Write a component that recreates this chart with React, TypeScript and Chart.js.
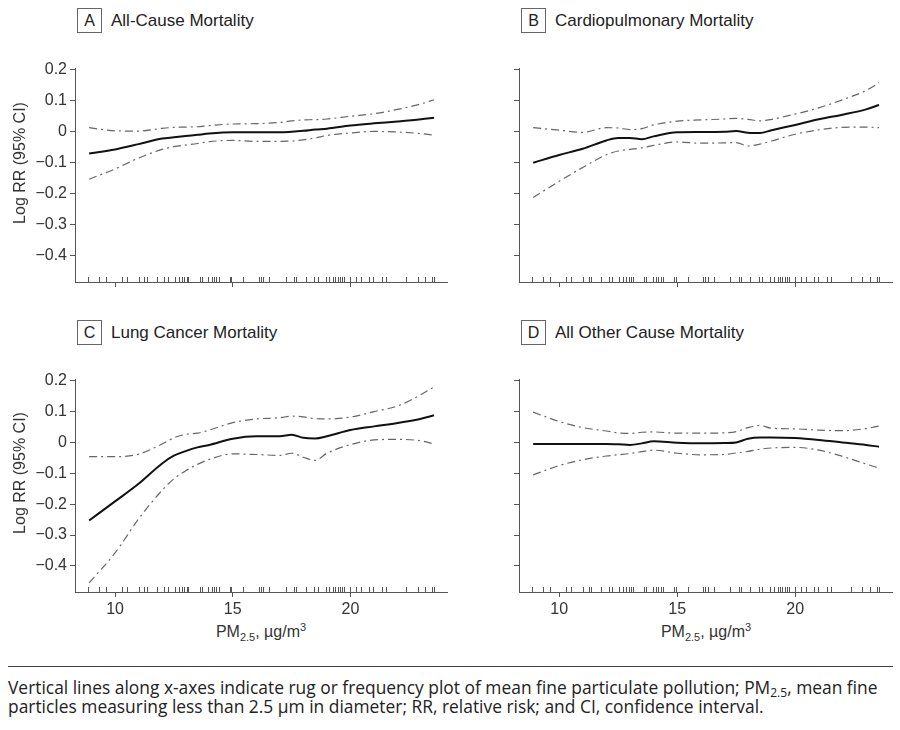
import React, { useEffect, useRef } from "react";
import { Chart, registerables } from "chart.js";

Chart.register(...registerables);

// PM2.5 grid (µg/m3) at which the curves were read
const pmGrid = [8.9, 10, 11, 12, 12.5, 13, 13.5, 14, 15, 16, 17, 17.5, 18, 18.5, 19, 20, 21, 22, 23, 23.55];

// A All-Cause Mortality
const allCauseEst = [-0.07, -0.057, -0.04, -0.022, -0.018, -0.014, -0.01, -0.006, -0.002, -0.002, -0.002, 0.0, 0.003, 0.007, 0.01, 0.02, 0.027, 0.033, 0.04, 0.045];
const allCauseUpper = [0.013, 0.003, 0.002, 0.011, 0.014, 0.015, 0.016, 0.02, 0.025, 0.026, 0.03, 0.035, 0.038, 0.039, 0.041, 0.05, 0.058, 0.072, 0.09, 0.103];
const allCauseLower = [-0.153, -0.12, -0.085, -0.057, -0.048, -0.043, -0.038, -0.032, -0.028, -0.031, -0.031, -0.03, -0.026, -0.02, -0.012, -0.004, 0.001, -0.001, -0.006, -0.011];

// B Cardiopulmonary Mortality
const cardioEst = [-0.1, -0.075, -0.055, -0.028, -0.02, -0.02, -0.024, -0.015, -0.002, -0.001, 0.0, 0.002, -0.003, -0.004, 0.005, 0.022, 0.04, 0.055, 0.072, 0.086];
const cardioUpper = [0.013, 0.005, -0.002, 0.013, 0.012, 0.007, 0.01, 0.022, 0.034, 0.038, 0.041, 0.043, 0.04, 0.035, 0.04, 0.057, 0.077, 0.103, 0.133, 0.158];
const cardioLower = [-0.212, -0.16, -0.115, -0.074, -0.062, -0.057, -0.052, -0.044, -0.033, -0.037, -0.036, -0.035, -0.046, -0.04, -0.03, -0.008, 0.006, 0.014, 0.015, 0.013];

// C Lung Cancer Mortality
const lungEst = [-0.253, -0.191, -0.134, -0.068, -0.043, -0.028, -0.016, -0.008, 0.012, 0.02, 0.02, 0.025, 0.015, 0.013, 0.02, 0.04, 0.052, 0.063, 0.077, 0.088];
const lungUpper = [-0.046, -0.046, -0.038, -0.005, 0.015, 0.026, 0.03, 0.04, 0.064, 0.076, 0.08, 0.085, 0.083, 0.077, 0.076, 0.082, 0.1, 0.118, 0.155, 0.18];
const lungLower = [-0.455, -0.358, -0.248, -0.155, -0.118, -0.092, -0.071, -0.055, -0.037, -0.039, -0.042, -0.035, -0.048, -0.058, -0.035, -0.007, 0.008, 0.01, 0.005, -0.005];

// D All Other Cause Mortality
const otherEst = [-0.005, -0.005, -0.005, -0.005, -0.006, -0.008, -0.003, 0.004, -0.001, -0.003, -0.002, 0.0, 0.012, 0.016, 0.016, 0.014, 0.008, 0.0, -0.008, -0.014];
const otherUpper = [0.098, 0.068, 0.048, 0.037, 0.031, 0.029, 0.033, 0.034, 0.03, 0.03, 0.031, 0.035, 0.048, 0.055, 0.046, 0.044, 0.04, 0.038, 0.045, 0.053];
const otherLower = [-0.105, -0.075, -0.056, -0.044, -0.04, -0.036, -0.03, -0.025, -0.035, -0.04, -0.039, -0.034, -0.029, -0.022, -0.018, -0.016, -0.025, -0.045, -0.07, -0.083];

// Rug: mean PM2.5 of the cities
const rugPM = [8.85, 9.3, 9.6, 10.3, 10.5, 11.0, 11.25, 11.35, 11.77, 12.1, 12.25, 12.55, 12.7, 12.84, 12.95, 13.05, 13.12, 13.6, 13.68, 13.97, 14.1, 14.2, 14.3, 14.4, 14.87, 14.94, 15.45, 16.1, 16.2, 16.3, 16.55, 17.25, 17.6, 17.7, 18.1, 18.45, 18.6, 18.95, 19.1, 19.25, 19.35, 19.45, 19.55, 19.65, 19.72, 20.0, 20.25, 20.45, 20.8, 20.95, 21.35, 21.5, 22.35, 22.85, 23.15, 23.45, 23.55];

const yTickValues = [-0.4, -0.3, -0.2, -0.1, 0, 0.1, 0.2];
const xTickValues = [10, 15, 20];
const panelLetters = ["A", "B", "C", "D"];
const panelTitles = ["All-Cause Mortality", "Cardiopulmonary Mortality", "Lung Cancer Mortality", "All Other Cause Mortality"];
const yAxisTitle = "Log RR (95% CI)";

const FONT = "'Liberation Sans', Arial, Helvetica, sans-serif";
const CW = 450;
const CH = 270;

const rugPlugin = {
  id: "rug",
  afterDatasetsDraw(chart: any) {
    const { ctx, chartArea, scales } = chart;
    ctx.save();
    ctx.strokeStyle = "#555";
    ctx.lineWidth = 1;
    ctx.beginPath();
    for (const v of rugPM) {
      const x = Math.round(scales.x.getPixelForValue(v)) + 0.5;
      ctx.moveTo(x, chartArea.bottom);
      ctx.lineTo(x, chartArea.bottom - 5);
    }
    ctx.stroke();
    ctx.restore();
  },
};

function fmtY(v: number) {
  if (Math.abs(v) < 1e-9) return "0";
  return v < 0 ? "\u2212" + Math.abs(v).toFixed(1) : v.toFixed(1);
}

type PanelProps = {
  est: number[];
  upper: number[];
  lower: number[];
  left: number;
  top: number;
  padTop: number;
  yWidth: number;
  padRight: number;
  showYLabels: boolean;
  showXLabels: boolean;
};

function Panel(p: PanelProps) {
  const ref = useRef<HTMLCanvasElement>(null);
  useEffect(() => {
    if (!ref.current) return;
    const mk = (arr: number[]) => pmGrid.map((x, i) => ({ x, y: arr[i] }));
    const ciStyle = {
      borderColor: "#666",
      borderWidth: 1.2,
      borderDash: [8, 4, 2, 4],
      pointRadius: 0,
      cubicInterpolationMode: "monotone" as const,
      fill: false,
    };
    const chart = new Chart(ref.current, {
      type: "line",
      data: {
        datasets: [
          { data: mk(p.upper), ...ciStyle },
          { data: mk(p.lower), ...ciStyle },
          {
            data: mk(p.est),
            borderColor: "#111",
            borderWidth: 2,
            pointRadius: 0,
            cubicInterpolationMode: "monotone",
            fill: false,
          },
        ],
      },
      options: {
        animation: false,
        responsive: false,
        events: [],
        layout: { padding: { top: p.padTop, right: p.padRight, left: 0, bottom: 0 } },
        plugins: { legend: { display: false }, tooltip: { enabled: false } },
        scales: {
          x: {
            type: "linear",
            min: 8.3,
            max: 24.1,
            afterBuildTicks: (s: any) => {
              s.ticks = xTickValues.map((value) => ({ value }));
            },
            afterFit: (s: any) => {
              s.height = 28;
            },
            grid: { display: true, drawOnChartArea: false, drawTicks: true, tickLength: 5, color: "#555" },
            border: { display: true, color: "#555", width: 1 },
            ticks: {
              display: p.showXLabels,
              padding: 3,
              color: "#333",
              font: { family: FONT, size: 16 },
              callback: (v: any) => String(v),
            },
          },
          y: {
            type: "linear",
            min: -0.4845,
            max: 0.2055,
            afterBuildTicks: (s: any) => {
              s.ticks = yTickValues.map((value) => ({ value }));
            },
            afterFit: (s: any) => {
              s.width = p.yWidth;
            },
            grid: { display: true, drawOnChartArea: false, drawTicks: true, tickLength: 5, color: "#555" },
            border: { display: true, color: "#555", width: 1 },
            ticks: {
              display: p.showYLabels,
              padding: 3,
              color: "#333",
              font: { family: FONT, size: 16 },
              callback: (v: any) => fmtY(Number(v)),
            },
          },
        },
      },
      plugins: [rugPlugin],
    });
    return () => chart.destroy();
  }, []);
  return (
    <canvas
      ref={ref}
      width={CW}
      height={CH}
      style={{ position: "absolute", left: p.left, top: p.top, width: CW, height: CH }}
    />
  );
}

function PanelTitle({ letter, title, left, top }: { letter: string; title: string; left: number; top: number }) {
  return (
    <div style={{ position: "absolute", left, top, height: 25, display: "flex", alignItems: "center", fontFamily: FONT, color: "#222", whiteSpace: "nowrap" }}>
      <div
        style={{
          width: 23,
          height: 23,
          border: "1px solid #666",
          display: "flex",
          alignItems: "center",
          justifyContent: "center",
          fontSize: 16,
        }}
      >
        {letter}
      </div>
      <div style={{ marginLeft: 9, fontSize: 17 }}>{title}</div>
    </div>
  );
}

function YTitle({ cx, cy }: { cx: number; cy: number }) {
  return (
    <div
      style={{
        position: "absolute",
        left: cx,
        top: cy,
        transform: "translate(-50%, -50%) rotate(-90deg)",
        fontFamily: FONT,
        fontSize: 16,
        color: "#333",
        whiteSpace: "nowrap",
        lineHeight: "18px",
      }}
    >
      {yAxisTitle}
    </div>
  );
}

function XTitle({ cx, cy }: { cx: number; cy: number }) {
  return (
    <div
      style={{
        position: "absolute",
        left: cx,
        top: cy,
        transform: "translate(-50%, -50%)",
        fontFamily: FONT,
        fontSize: 16,
        color: "#333",
        whiteSpace: "nowrap",
        lineHeight: "20px",
      }}
    >
      PM<sub style={{ fontSize: 11, verticalAlign: "-4px", lineHeight: 0 }}>2.5</sub>, µg/m
      <sup style={{ fontSize: 11, verticalAlign: "6px", lineHeight: 0 }}>3</sup>
    </div>
  );
}

export default function App() {
  return (
    <div style={{ position: "absolute", left: 0, top: 0, width: 900, height: 730, background: "#fff", overflow: "hidden" }}>
      <PanelTitle letter={panelLetters[0]} title={panelTitles[0]} left={77} top={8} />
      <PanelTitle letter={panelLetters[1]} title={panelTitles[1]} left={521} top={8} />
      <PanelTitle letter={panelLetters[2]} title={panelTitles[2]} left={77} top={320} />
      <PanelTitle letter={panelLetters[3]} title={panelTitles[3]} left={521} top={320} />

      <Panel est={allCauseEst} upper={allCauseUpper} lower={allCauseLower} left={0} top={40} padTop={28} yWidth={75} padRight={3} showYLabels={true} showXLabels={false} />
      <Panel est={cardioEst} upper={cardioUpper} lower={cardioLower} left={450} top={40} padTop={28} yWidth={69} padRight={8} showYLabels={false} showXLabels={false} />
      <Panel est={lungEst} upper={lungUpper} lower={lungLower} left={0} top={350} padTop={29} yWidth={75} padRight={3} showYLabels={true} showXLabels={true} />
      <Panel est={otherEst} upper={otherUpper} lower={otherLower} left={450} top={350} padTop={29} yWidth={69} padRight={8} showYLabels={false} showXLabels={true} />

      <YTitle cx={20} cy={163} />
      <YTitle cx={20} cy={473} />
      <XTitle cx={261} cy={632} />
      <XTitle cx={706} cy={632} />

      <div style={{ position: "absolute", left: 8, top: 666, width: 885, borderTop: "1px solid #444" }} />
      <div
        style={{
          position: "absolute",
          left: 8,
          top: 678,
          fontFamily: "'Open Sans', 'Noto Sans', sans-serif",
          fontSize: 17.4,
          lineHeight: "19px",
          color: "#222",
          whiteSpace: "nowrap",
        }}
      >
        Vertical lines along x-axes indicate rug or frequency plot of mean fine particulate pollution; PM
        <sub style={{ fontSize: 12, verticalAlign: "-3px", lineHeight: 0 }}>2.5</sub>, mean fine
        <br />
        particles measuring less than 2.5 µm in diameter; RR, relative risk; and CI, confidence interval.
      </div>
    </div>
  );
}
